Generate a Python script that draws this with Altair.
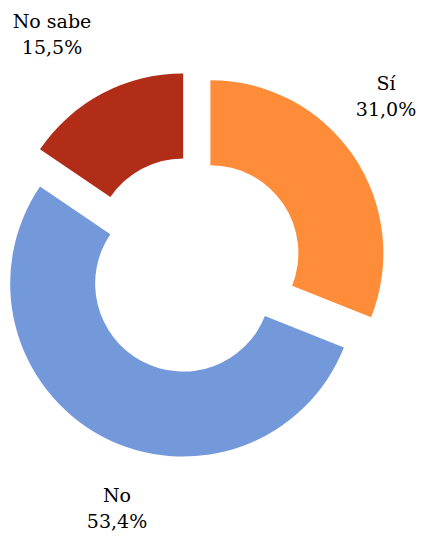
import altair as alt
import pandas as pd

categories = ["Sí", "No", "No sabe"]
values = [31.0, 53.4, 15.5]
pct_labels = ["31,0%", "53,4%", "15,5%"]
colors = ["#FF8C38", "#7499DA", "#B22D17"]

df = pd.DataFrame({"cat": categories, "val": values, "order": list(range(len(categories)))})

CX, CY, EXPLODE = 185, 257, 21
R_OUT, R_IN = 173, 88

arcs = (
    alt.Chart(df)
    .transform_joinaggregate(total="sum(val)")
    .transform_window(cum="sum(val)", sort=[alt.SortField("order")], frame=[None, 0])
    .transform_calculate(
        start="2*PI*(datum.cum - datum.val)/datum.total",
        end="2*PI*datum.cum/datum.total",
    )
    .transform_calculate(mid="(datum.start + datum.end)/2")
    .transform_calculate(
        px=f"{CX} + {EXPLODE}*sin(datum.mid)",
        py=f"{CY} - {EXPLODE}*cos(datum.mid)",
    )
    .mark_arc(innerRadius=R_IN, outerRadius=R_OUT, stroke=None)
    .encode(
        theta=alt.Theta("start:Q", scale=None, stack=None),
        theta2="end:Q",
        x=alt.X("px:Q", scale=None),
        y=alt.Y("py:Q", scale=None),
        color=alt.Color("cat:N", scale=alt.Scale(domain=categories, range=colors), legend=None),
    )
)

FONT = "DejaVu Serif, Liberation Serif, serif"
label_pos = {"Sí": (378, 82), "No": (109, 494), "No sabe": (44, 20)}
texts = []
for c, p in zip(categories, pct_labels):
    x, y = label_pos[c]
    texts.append(
        alt.Chart(pd.DataFrame({"t": [c + "\n" + p]}))
        .mark_text(font=FONT, fontSize=19, color="#000000", align="center",
                   baseline="alphabetic", lineBreak="\n", lineHeight=26)
        .encode(text="t:N", x=alt.value(x), y=alt.value(y))
    )

chart = alt.layer(arcs, *texts).properties(
    width=411, height=524, autosize=alt.AutoSizeParams(type="none"), padding=0
).configure_view(stroke=None)

chart.save("out.html", embed_options={"renderer": "svg", "actions": False})
